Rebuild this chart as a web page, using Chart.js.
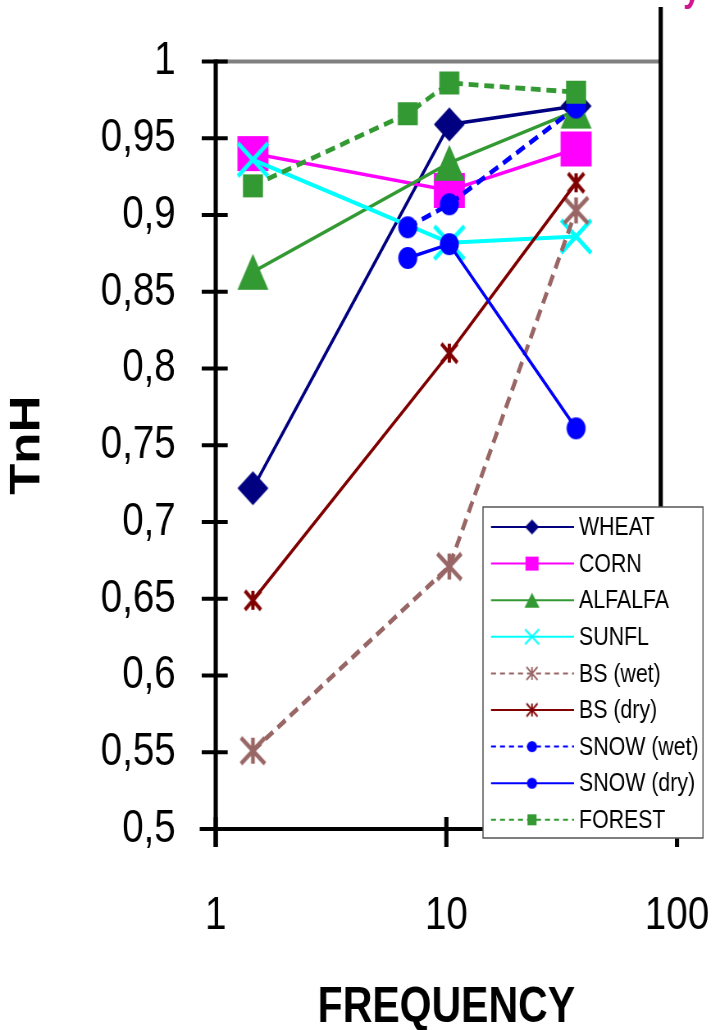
<!DOCTYPE html>
<html>
<head>
<meta charset="utf-8">
<script src="https://cdn.jsdelivr.net/npm/chart.js@4/dist/chart.umd.min.js"></script>
<style>
html, body { margin: 0; padding: 0; background: #fff; overflow: hidden; }
</style>
</head>
<body>
<!-- o grafico original e esticado na vertical: desenha largo e aperta na horizontal -->
<canvas id="grafico" width="878" height="1030" style="width:720px;height:1030px;display:block"></canvas>
<script>
// dados
const seriesNames = ['WHEAT', 'CORN', 'ALFALFA', 'SUNFL', 'BS (wet)', 'BS (dry)', 'SNOW (wet)', 'SNOW (dry)', 'FOREST'];
const freqCrops = [1.45, 10.3, 36.5];
const freqSnow = [6.8, 10.3, 36.5];
const freqForest = [1.45, 6.8, 10.3, 36.5];

const wheat = [0.722, 0.959, 0.971];
const corn = [0.940, 0.916, 0.943];
const alfalfa = [0.863, 0.934, 0.968];
const sunfl = [0.936, 0.882, 0.886];
const bsWet = [0.551, 0.671, 0.903];
const bsDry = [0.649, 0.810, 0.921];
const snowWet = [0.892, 0.907, 0.970];
const snowDry = [0.872, 0.881, 0.761];
const forest = [0.919, 0.966, 0.986, 0.980];

const xTicks = [1, 10, 100];
const yTicks = [0.5, 0.55, 0.6, 0.65, 0.7, 0.75, 0.8, 0.85, 0.9, 0.95, 1];

const SX = 720 / 878;           // aperto horizontal do canvas
const px = v => v / SX;         // posicao na tela -> posicao no canvas
const fonte = '"Liberation Sans", Arial, sans-serif';

// estilo de cada serie (cor, traco, marcador grande / marcador da legenda)
const estilos = [
    {cor: '#000080', lw: 3.5, dash: [], tipo: 'losango', w: 31, h: 34, lwm: 0, lg: [14, 15, 0]},
    {cor: '#FF00FF', lw: 3.5, dash: [], tipo: 'quadrado', w: 31, h: 35, lwm: 0, lg: [13, 14, 0]},
    {cor: '#339933', lw: 3.5, dash: [], tipo: 'triangulo', w: 31, h: 36, lwm: 0, lg: [15, 15, 0]},
    {cor: '#00FFFF', lw: 4, dash: [], tipo: 'xis', w: 30, h: 33, lwm: 4.5, lg: [14, 15, 2.2]},
    {cor: '#996666', lw: 4.8, dash: [12, 7], tipo: 'asterisco', w: 24, h: 26, lwm: 4.5, lg: [11, 13, 1.8]},
    {cor: '#800000', lw: 3.5, dash: [], tipo: 'asterisco', w: 16, h: 19, lwm: 4, lg: [11, 13, 1.8]},
    {cor: '#0000FF', lw: 4.8, dash: [12, 7], tipo: 'circulo', w: 19, h: 22, lwm: 0, lg: [10, 11, 0]},
    {cor: '#0000FF', lw: 3.5, dash: [], tipo: 'circulo', w: 19, h: 22, lwm: 0, lg: [10, 11, 0]},
    {cor: '#339933', lw: 4.8, dash: [12, 7], tipo: 'quadrado', w: 20, h: 23, lwm: 0, lg: [9, 11, 0]}
];

// marcador desenhado num canvas pequeno (largura ja compensada pelo aperto)
function marcador(tipo, wTela, h, cor, lw) {
    const w = px(wTela);
    const m = 4;
    const c = document.createElement('canvas');
    c.width = Math.ceil(w + 2 * m);
    c.height = Math.ceil(h + 2 * m);
    const g = c.getContext('2d');
    g.translate((c.width - w) / 2, (c.height - h) / 2);
    g.fillStyle = cor;
    g.strokeStyle = cor;
    g.lineWidth = lw || 1;
    g.beginPath();
    if (tipo === 'losango') {
        g.moveTo(w / 2, 0); g.lineTo(w, h / 2); g.lineTo(w / 2, h); g.lineTo(0, h / 2);
        g.closePath(); g.fill();
    } else if (tipo === 'quadrado') {
        g.fillRect(0, 0, w, h);
    } else if (tipo === 'triangulo') {
        g.moveTo(w / 2, 0); g.lineTo(w, h); g.lineTo(0, h);
        g.closePath(); g.fill();
    } else if (tipo === 'circulo') {
        g.ellipse(w / 2, h / 2, w / 2, h / 2, 0, 0, Math.PI * 2);
        g.fill();
    } else {
        g.moveTo(0, 0); g.lineTo(w, h);
        g.moveTo(w, 0); g.lineTo(0, h);
        if (tipo === 'asterisco') { g.moveTo(w / 2, 0); g.lineTo(w / 2, h); }
        g.stroke();
    }
    return c;
}

const xs = [freqCrops, freqCrops, freqCrops, freqCrops, freqCrops, freqCrops, freqSnow, freqSnow, freqForest];
const ys = [wheat, corn, alfalfa, sunfl, bsWet, bsDry, snowWet, snowDry, forest];

var datasets = [];
for (var i = 0; i < seriesNames.length; i++) {
    const e = estilos[i];
    datasets.push({
        label: seriesNames[i],
        data: xs[i].map((f, k) => ({x: f, y: ys[i][k]})),
        borderColor: e.cor,
        backgroundColor: e.cor,
        borderWidth: e.lw,
        borderDash: e.dash,
        pointStyle: marcador(e.tipo, e.w, e.h, e.cor, e.lwm),
        pointRadius: 10,
        pointHoverRadius: 10,
        order: seriesNames.length - i,
        tension: 0,
        fill: false
    });
}

// eixos, tracos, linha cinza do 1, borda direita e legenda
const bordaDireita = 85;
const eixos = {
    id: 'eixos',
    beforeDatasetsDraw(chart) {
        const ctx = chart.ctx, a = chart.chartArea;
        const x = chart.scales.x, y = chart.scales.y;
        const linha = (x1, y1, x2, y2) => { ctx.beginPath(); ctx.moveTo(x1, y1); ctx.lineTo(x2, y2); ctx.stroke(); };
        ctx.save();
        const bx = x.getPixelForValue(bordaDireita);
        const ytop = y.getPixelForValue(1);
        ctx.strokeStyle = '#808080';
        ctx.lineWidth = 4;
        linha(a.left, ytop, bx, ytop);
        ctx.strokeStyle = '#000';
        ctx.lineWidth = px(4.2);
        linha(bx, 7, bx, 515);
        linha(a.left, a.top - 2, a.left, a.bottom + 18);
        x.ticks.forEach(t => {
            const p = x.getPixelForValue(t.value);
            linha(p, a.bottom - 12, p, a.bottom + 18);
        });
        ctx.lineWidth = 4.2;
        linha(a.left - px(16), a.bottom, a.right, a.bottom);
        y.ticks.forEach(t => {
            const p = y.getPixelForValue(t.value);
            linha(a.left - px(14), p, a.left + px(12), p);
        });
        ctx.restore();
    },
    afterDraw(chart) {
        const ctx = chart.ctx;
        ctx.save();
        const L = {x: px(483), y: 507, w: px(220), h: 331};
        ctx.fillStyle = '#fff';
        ctx.fillRect(L.x, L.y, L.w, L.h);
        ctx.strokeStyle = '#555';
        ctx.lineWidth = 1.5;
        ctx.strokeRect(L.x, L.y, L.w, L.h);
        chart.data.datasets.forEach((ds, i) => {
            const e = estilos[i];
            const cy = 527 + i * 36.6;
            ctx.strokeStyle = e.cor;
            ctx.lineWidth = 2;
            ctx.setLineDash(e.dash.length ? [px(5), px(4)] : []);
            ctx.beginPath();
            ctx.moveTo(px(491), cy);
            ctx.lineTo(px(574), cy);
            ctx.stroke();
            ctx.setLineDash([]);
            const mk = marcador(e.tipo, e.lg[0], e.lg[1], e.cor, e.lg[2]);
            ctx.drawImage(mk, px(532) - mk.width / 2, cy - mk.height / 2);
            ctx.fillStyle = '#000';
            ctx.font = '26px ' + fonte;
            ctx.textBaseline = 'middle';
            ctx.textAlign = 'left';
            ctx.fillText(ds.label, px(579), cy + 1);
        });
        // pedaco do titulo da pagina cortado no topo
        ctx.fillStyle = '#D4148C';
        ctx.font = 'bold 38px ' + fonte;
        ctx.textBaseline = 'alphabetic';
        ctx.fillText('y', px(683), 1);
        ctx.restore();
    }
};

const config = {
    type: 'line',
    data: {datasets: datasets},
    options: {
        responsive: false,
        animation: false,
        devicePixelRatio: 1,
        layout: {padding: {top: 61.5, right: px(43), left: 0, bottom: 0}},
        plugins: {legend: {display: false}, tooltip: {enabled: false}},
        scales: {
            x: {
                type: 'logarithmic',
                min: 1,
                max: 100,
                afterBuildTicks: s => { s.ticks = xTicks.map(v => ({value: v})); },
                afterFit: s => { s.height = 201; s.paddingLeft = 0; s.paddingRight = 0; },
                grid: {display: false, drawTicks: false},
                border: {display: false},
                ticks: {
                    color: '#000',
                    font: {family: fonte, size: 47},
                    padding: 59,
                    autoSkip: false,
                    maxRotation: 0,
                    callback: v => String(v)
                },
                title: {
                    display: true,
                    text: 'FREQUENCY',
                    color: '#000',
                    font: {family: fonte, size: 50, weight: 'bold', lineHeight: 0.88},
                    padding: {top: 0, bottom: 0}
                }
            },
            y: {
                min: 0.5,
                max: 1,
                afterBuildTicks: s => { s.ticks = yTicks.map(v => ({value: v})); },
                afterFit: s => { s.width = px(215.7); s.paddingTop = 0; s.paddingBottom = 0; },
                grid: {display: false, drawTicks: false},
                border: {display: false},
                ticks: {
                    color: '#000',
                    font: {family: fonte, size: 47},
                    padding: px(40),
                    autoSkip: false,
                    callback: v => String(v).replace('.', ',')
                },
                title: {
                    display: true,
                    text: 'TnH',
                    color: '#000',
                    font: {family: fonte, size: 51, weight: 'bold', lineHeight: 1.34},
                    padding: {top: 0, bottom: 0}
                }
            }
        }
    },
    plugins: [eixos]
};

const grafico = new Chart(document.getElementById('grafico'), config);
</script>
</body>
</html>
